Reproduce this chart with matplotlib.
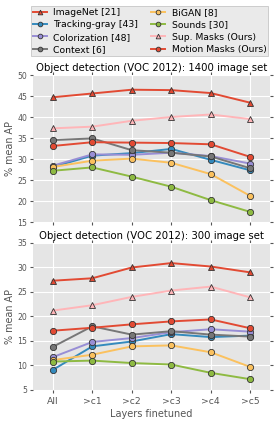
import matplotlib
matplotlib.use('Agg')
import matplotlib.pyplot as plt

plt.style.use('ggplot')

layers = ['All', '>c1', '>c2', '>c3', '>c4', '>c5']
methods = ['ImageNet [21]', 'Tracking-gray [43]', 'Colorization [48]', 'Context [6]',
           'BiGAN [8]', 'Sounds [30]', 'Sup. Masks (Ours)', 'Motion Masks (Ours)']
colors = ['#E24A33', '#348ABD', '#988ED5', '#777777',
          '#FBC15E', '#8EBA42', '#FFB5B8', '#E24A33']
markers = ['^', 'o', 'o', 'o', 'o', 'o', '^', 'o']

# 1400 image set
ap_1400 = [
    [44.7, 45.6, 46.5, 46.4, 45.7, 43.4],
    [28.1, 30.8, 31.4, 32.4, 29.8, 27.3],
    [28.4, 31.1, 31.0, 31.5, 30.7, 28.9],
    [34.5, 34.9, 32.1, 31.5, 30.6, 27.8],
    [28.1, 29.6, 30.1, 29.1, 26.4, 21.2],
    [27.2, 28.0, 25.8, 23.4, 20.2, 17.4],
    [37.3, 37.7, 39.1, 40.0, 40.6, 39.5],
    [33.1, 34.0, 33.9, 33.8, 33.5, 30.5],
]
# 300 image set
ap_300 = [
    [27.3, 27.8, 30.0, 30.9, 30.2, 29.0],
    [9.1, 13.9, 14.9, 16.4, 15.8, 16.1],
    [11.7, 14.8, 15.6, 16.8, 17.4, 16.9],
    [13.8, 18.0, 16.3, 17.0, 16.3, 15.9],
    [11.1, 12.2, 13.9, 14.1, 12.7, 9.7],
    [10.8, 11.0, 10.5, 10.2, 8.5, 7.2],
    [21.2, 22.3, 24.0, 25.3, 26.1, 23.9],
    [17.1, 17.7, 18.4, 19.0, 19.4, 17.6],
]

fig = plt.figure(figsize=(2.75, 4.24), dpi=100, facecolor='white')
ax1 = fig.add_axes([0.12, 0.4764, 0.862, 0.3467])
ax2 = fig.add_axes([0.12, 0.0802, 0.862, 0.3467])

x = list(range(len(layers)))
for ax, data, title, ylim in [(ax1, ap_1400, 'Object detection (VOC 2012): 1400 image set', (15, 50)),
                              (ax2, ap_300, 'Object detection (VOC 2012): 300 image set', (5, 35))]:
    for name, vals, c, m in zip(methods, data, colors, markers):
        ax.plot(x, vals, color=c, marker=m, markersize=4.5, lw=1.4,
                markeredgecolor='#333333', markeredgewidth=0.6, label=name)
    ax.set_facecolor('#E5E5E5')
    ax.set_xlim(-0.5, 5.5)
    ax.set_ylim(*ylim)
    ax.set_xticks(x)
    ax.set_title(title, fontsize=7.3, color='black', pad=3)
    ax.set_ylabel('% mean AP', fontsize=6.9, color='#555555', labelpad=2)
    ax.tick_params(axis='y', labelsize=5.6, colors='#555555', direction='out',
                   length=2, right=True, pad=2)
    ax.tick_params(axis='x', labelsize=6.7, colors='#555555', direction='out',
                   length=2, top=True, pad=3)
    ax.grid(True, color='white', lw=0.8)
    for s in ax.spines.values():
        s.set_visible(False)

ax1.set_xticklabels([])
ax2.set_xticklabels(layers)
ax2.set_xlabel('Layers finetuned', fontsize=7, color='#555555', labelpad=2)

handles, labels = ax1.get_legend_handles_labels()
leg = fig.legend(handles, labels, loc='lower left', ncol=2, mode='expand',
                 bbox_to_anchor=(0.113, 1 - 56 / 424, 0.862, 56 / 424),
                 fontsize=6.7, handlelength=1.5, handletextpad=0.7,
                 columnspacing=0.5, labelspacing=0.37, borderpad=0.2,
                 borderaxespad=0.0, markerscale=0.75,
                 frameon=True, fancybox=False)
leg.get_frame().set_facecolor('#E5E5E5')
leg.get_frame().set_edgecolor('#BBBBBB')
leg.get_frame().set_linewidth(0.6)

fig.savefig('out.png', dpi=100, facecolor='white')
